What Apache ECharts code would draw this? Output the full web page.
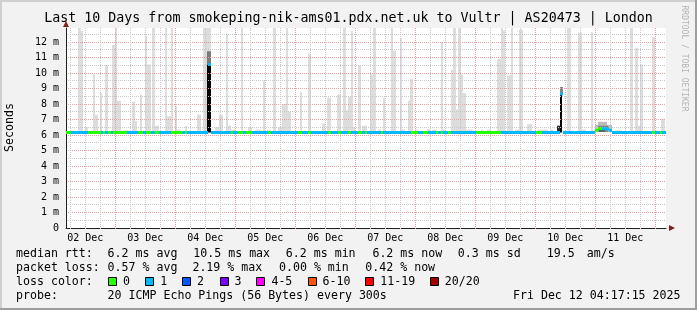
<!DOCTYPE html>
<html>
<head>
<meta charset="utf-8">
<script src="https://cdn.jsdelivr.net/npm/echarts@6.0.0/dist/echarts.min.js"></script>
<style>
html,body{margin:0;padding:0;background:#f2f2f2;}
#chart{width:697px;height:310px;}
</style>
</head>
<body>
<div id="chart"></div>
<script>
// ---- DATA (time unit: hours since 2025-12-02 00:00) ----
const timeStart = 4.2875;   // Dec 2 04:17:15
const timeEnd = 244.2875;   // Dec 12 04:17:15
const dayLabels = ['02 Dec','03 Dec','04 Dec','05 Dec','06 Dec','07 Dec','08 Dec','09 Dec','10 Dec','11 Dec'];
const dayLabelHours = [12,36,60,84,108,132,156,180,204,228];
const gridHours = [6,12,18,24,30,36,42,48,54,60,66,72,78,84,90,96,102,108,114,120,126,132,138,144,150,156,162,168,174,180,186,192,198,204,210,216,222,228,234,240];
const yMax = 12.9;

// light smoke spikes: [fromHour, toHour, highest ping ms]
const smokeSpikes = [
 [8.9,10.1,14],[10.1,10.9,12.7],[11.7,12.9,6.5],[14.9,16.0,9.9],[16.0,16.9,7.3],[18.0,18.8,8.7],[20.0,20.9,10.5],
 [22.5,24.0,11.8],[24.0,24.8,14],[24.8,26.1,8.2],[26.9,28.9,6.3],[30.8,32.0,8.15],[32.0,32.8,6.9],[33.8,34.8,8.6],
 [35.7,36.5,12.4],[36.5,38.1,10.55],[38.8,40.0,14],[40.0,41.3,6.6],[43.7,44.5,14],[44.5,46.1,7.2],[46.1,47.2,14],
 [48.0,48.8,7.85],[48.8,50.4,6.35],[52.0,52.8,6.6],[56.8,58.1,7.3],[58.9,62.1,14],
 [63.7,65.6,6.5],[65.6,66.9,7.3],[68.1,69.0,12.55],[69.0,70.1,6.6],[70.1,71.7,6.35],[74.1,75.0,14],[77.0,78.8,6.5],
 [80.0,82.1,6.35],[82.9,84.0,9.5],[84.8,86.1,6.35],[86.9,88.1,14],[89.0,90.8,6.5],[90.8,92.1,8.0],[92.1,92.9,14],
 [92.9,94.1,7.5],[97.8,98.8,8.75],[100.9,102.1,11.25],[106.6,108.0,6.75],[108.8,110.1,8.4],[112.8,114.1,8.6],
 [114.9,116.1,14],[116.1,117.0,7.6],[117.0,118.1,8.45],[118.1,118.9,12.7],[118.9,119.7,6.5],[120.9,122.1,10.5],[122.8,124.5,6.6],
 [125.7,126.9,9.9],[126.9,128.1,14],[128.9,130.1,6.35],[130.9,132.0,8.4],[134.1,135.0,14],[135.0,136.1,11.45],
 [138.0,138.8,12.25],[138.8,140.0,6.35],[140.9,142.0,8.2],[142.0,143.0,9.6],[144.0,145.0,6.35],[148.8,149.8,6.4],
 [150.8,152.8,6.35],[154.1,154.9,12.0],[154.9,156.0,6.35],[158.1,158.9,10.2],[158.9,160.1,14],[160.1,161.0,7.65],
 [161.0,162.1,14],[162.1,162.9,9.9],[162.9,164.1,8.7],[164.1,166.9,6.35],[170.1,171.2,6.35],[172.8,174.1,6.35],
 [176.8,178.1,10.9],[178.1,179.2,14],[179.2,180.0,12.75],[180.8,182.1,9.85],[182.1,182.9,14],
 [183.7,185.6,6.35],[185.6,186.9,12.8],[188.8,190.6,6.7],[192.8,196.9,6.35],[197.8,198.9,6.35],[204.8,206.1,14],
 [209.1,210.8,12.6],[210.8,212.1,6.35],[214.1,215.2,12.65],[223.7,226.1,6.3],[230.0,231.0,14],[232.0,233.0,11.6],
 [233.0,233.8,6.6],[233.8,234.9,10.55],[238.8,240.0,12.3],[240.0,241.0,6.3],[242.3,244.0,7.05]
];
// dense smoke: [fromHour, toHour, low ms, high ms, pings in band]
const denseSmoke = [
 [60.7,62.1,6.16,10.55,20],[60.7,62.1,10.55,11.4,9],
 [200.8,201.9,6.16,6.6,16],[201.9,202.8,6.16,8.65,20],[201.8,202.9,8.65,9.1,8],
 [215.7,216.9,6.2,6.65,3],[216.9,220.5,6.2,6.85,3],[220.5,222.5,6.2,6.65,3],[216.9,220.9,6.2,6.6,8],[217.5,220.0,6.2,6.45,12]
];
// median rtt change points: [fromHour, median ms]
const medianChanges = [[4.2875,6.16],[60.9,10.55],[62.1,6.16],[201.8,8.65],[202.9,6.16],[215.7,6.3],[216.9,6.4],[221.5,6.3],[222.5,6.16]];
// packet loss change points: [fromHour, lost pings of 20]
const lossChanges = [[4.2875,0],[6.4,1],[13.0,0],[18.1,1],[18.9,0],[20.0,1],[21.0,0],[22.1,1],[23.0,0],[28.8,1],[33.0,0],[35.0,1],
 [36.4,0],[38.1,1],[40.0,0],[41.3,1],[46.1,0],[50.6,1],[51.8,0],[52.7,1],[70.1,0],[70.9,1],[72.9,0],[74.9,1],[76.4,0],[78.8,1],
 [84.9,0],[86.1,1],[96.9,0],[98.5,1],[100.9,0],[102.1,1],[108.9,0],[110.1,1],[112.9,0],[114.1,1],[116.9,0],[118.1,1],[120.9,0],
 [122.5,1],[123.7,0],[124.8,1],[130.1,0],[130.9,1],[142.1,0],[145.0,1],[146.9,0],[149.0,1],[152.2,0],[153.0,1],[154.1,0],[154.9,1],
 [156.9,0],[158.1,1],[168.2,0],[178.1,1],[192.2,0],[194.6,1],[215.7,0],[218.6,1],[238.8,0],[240.0,1],[242.0,0],[242.8,1]];
const lossLevels = [0,1,2,3,5,10,19,20];
const lossLabels = ['0','1','2','3','4-5','6-10','11-19','20/20'];
const lossColors = ['#26ff00','#00b8ff','#0059ff','#7e00ff','#ff00ff','#ff5500','#ff0000','#a10000'];
const statsRtt = ['6.2 ms avg','10.5 ms max','6.2 ms min','6.2 ms now','0.3 ms sd','19.5','am/s'];
const statsLoss = ['0.57 % avg','2.19 % max','0.00 % min','0.42 % now'];

// ---- build median segments from change points ----
function valueAt(list, h){ let v=list[0][1]; for(const c of list){ if(c[0]<=h) v=c[1]; } return v; }
const bps = Array.from(new Set([...medianChanges.map(c=>c[0]), ...lossChanges.map(c=>c[0]), timeEnd])).sort((a,b)=>a-b);
const medianSegs = [];
for (let i=0;i<bps.length-1;i++){
  const a=bps[i], b=bps[i+1];
  medianSegs.push([a,b,valueAt(medianChanges,a),valueAt(lossChanges,a)]);
}
function lossColor(n){ let idx=0; for(let i=0;i<lossLevels.length;i++){ if(n<=lossLevels[i]){idx=i;break;} } return lossColors[idx]; }
function shade(n){ const g=Math.round(221-221*n/20); return 'rgb('+g+','+g+','+g+')'; }

const MONO = '"DejaVu Sans Mono", monospace';
const chart = echarts.init(document.getElementById('chart'), null, {renderer:'canvas'});

function rectFrom(api,h0,h1,lo,hi){
  const p0=api.coord([h0,hi]), p1=api.coord([h1,lo]);
  const x0=Math.round(p0[0]), x1=Math.round(p1[0]);
  return {x:x0,y:p0[1],width:Math.max(1,x1-x0),height:p1[1]-p0[1]};
}

const gfx = [];
function txt(x,y,s,o){ o=o||{}; gfx.push({type:'text',silent:true,x:x,y:y,rotation:o.rot||0,z:10,
  style:{text:s,font:(o.size||11.6)+'px '+MONO,fill:o.color||'#000',align:o.align||'left',verticalAlign:'middle',textAlign:o.align||'left',textVerticalAlign:'middle'}}); }
// frame
gfx.push({type:'rect',silent:true,shape:{x:0,y:0,width:697,height:2},style:{fill:'#cfcfcf'}});
gfx.push({type:'rect',silent:true,shape:{x:0,y:0,width:2,height:310},style:{fill:'#cfcfcf'}});
gfx.push({type:'rect',silent:true,shape:{x:0,y:308,width:697,height:2},style:{fill:'#9e9e9e'}});
gfx.push({type:'rect',silent:true,shape:{x:695,y:0,width:2,height:310},style:{fill:'#9e9e9e'}});
// arrows
gfx.push({type:'polygon',silent:true,z:10,shape:{points:[[675,228],[669,225],[669,231]]},style:{fill:'#801f1f'}});
gfx.push({type:'polygon',silent:true,z:10,shape:{points:[[66,21],[63,27],[69,27]]},style:{fill:'#801f1f'}});
// texts
txt(348.5,19,'Last 10 Days from smokeping-nik-ams01.pdx.net.uk to Vultr | AS20473 | London',{size:13.3,align:'center'});
txt(9.5,127.5,'Seconds',{rot:Math.PI/2,align:'center'});
txt(684.5,58.5,'RRDTOOL / TOBI OETIKER',{rot:-Math.PI/2,align:'center',size:8,color:'#b4b4b4'});
const rttX=[107.6,193.3,285.8,372.4,457.8,546.7,586.7];
txt(16,254,'median rtt:'); statsRtt.forEach((s,i)=>txt(rttX[i],254,s));
const lossX=[107.6,192.4,279,365.3];
txt(16,268,'packet loss:'); statsLoss.forEach((s,i)=>txt(lossX[i],268,s));
txt(16,282,'loss color:');
const boxX=[108,145.3,182,219.6,256.4,307.6,365.3,429.8];
lossLabels.forEach((s,i)=>{
  gfx.push({type:'rect',silent:true,z:10,shape:{x:Math.round(boxX[i])+0.5,y:277.5,width:8,height:8},style:{fill:lossColors[i],stroke:'#000',lineWidth:1}});
  txt(boxX[i]+15,282,s);
});
txt(16,296,'probe:'); txt(107.6,296,'20 ICMP Echo Pings (56 Bytes) every 300s');
txt(680.5,296,'Fri Dec 12 04:17:15 2025',{align:'right'});

const option = {
  animation:false,
  backgroundColor:'#f2f2f2',
  grid:{left:66,top:28,width:600,height:200,show:true,backgroundColor:'#ffffff',borderWidth:0},
  xAxis:{type:'value',min:timeStart,max:timeEnd,
    axisLine:{show:true,lineStyle:{color:'#1f1f1f',width:1}},
    axisTick:{show:false},splitLine:{show:false},
    axisLabel:{customValues:dayLabelHours,margin:5,fontFamily:MONO,fontSize:10,color:'#000',
      formatter:(v)=>dayLabels[dayLabelHours.indexOf(v)]||''}},
  yAxis:[
    {type:'value',min:0,max:yMax,interval:0.5,position:'left',z:3,
     axisLine:{show:false},axisTick:{show:false},axisLabel:{show:false},
     splitLine:{show:true,showMaxLine:false,lineStyle:{color:['rgba(0,0,0,0)','#c8c8c8'],type:[1,1],width:1}}},
    {type:'value',min:0,max:yMax,interval:1,position:'left',z:3,
     axisLine:{show:true,lineStyle:{color:'#1f1f1f'}},axisTick:{show:false},
     axisLabel:{margin:7,fontFamily:MONO,fontSize:10,color:'#000',showMaxLabel:false,
       formatter:(v)=>v===0?'0':(Number.isInteger(v)?v+' m':'')},
     splitLine:{show:true,showMinLine:false,showMaxLine:false,lineStyle:{color:'#e9a0a0',type:[1,1],width:1}}}
  ],
  graphic:gfx,
  series:[
    {type:'custom',name:'smoke',z:2,clip:true,data:smokeSpikes,
     renderItem:(params,api)=>({type:'rect',shape:rectFrom(api,api.value(0),api.value(1),6.16,api.value(2)),style:{fill:'#dddddd'}})},
    {type:'custom',name:'dense',z:2,clip:true,data:denseSmoke,
     renderItem:(params,api)=>({type:'rect',shape:rectFrom(api,api.value(0),api.value(1),api.value(2),api.value(3)),style:{fill:shade(api.value(4))}})},
    {type:'custom',name:'vgrid',z:3,clip:false,data:gridHours.map(h=>[h]),
     renderItem:(params,api)=>{
       const h=api.value(0); const cs=params.coordSys;
       const x=Math.round(api.coord([h,0])[0])+0.5;
       return {type:'line',shape:{x1:x,y1:cs.y,x2:x,y2:cs.y+cs.height+2},
         style:{stroke:(h%24===0)?'#e9a0a0':'#c8c8c8',lineWidth:1,lineDash:[1,1]}};
     }},
    {type:'custom',name:'median',z:4,clip:true,data:medianSegs,
     renderItem:(params,api)=>{
       const p0=api.coord([api.value(0),api.value(2)]), p1=api.coord([api.value(1),api.value(2)]);
       const x0=Math.round(p0[0]), x1=Math.round(p1[0]);
       return {type:'rect',shape:{x:x0,y:p0[1]-1.5,width:Math.max(1,x1-x0),height:3},style:{fill:lossColor(api.value(3))}};
     }}
  ]
};
chart.setOption(option);
</script>
</body>
</html>
